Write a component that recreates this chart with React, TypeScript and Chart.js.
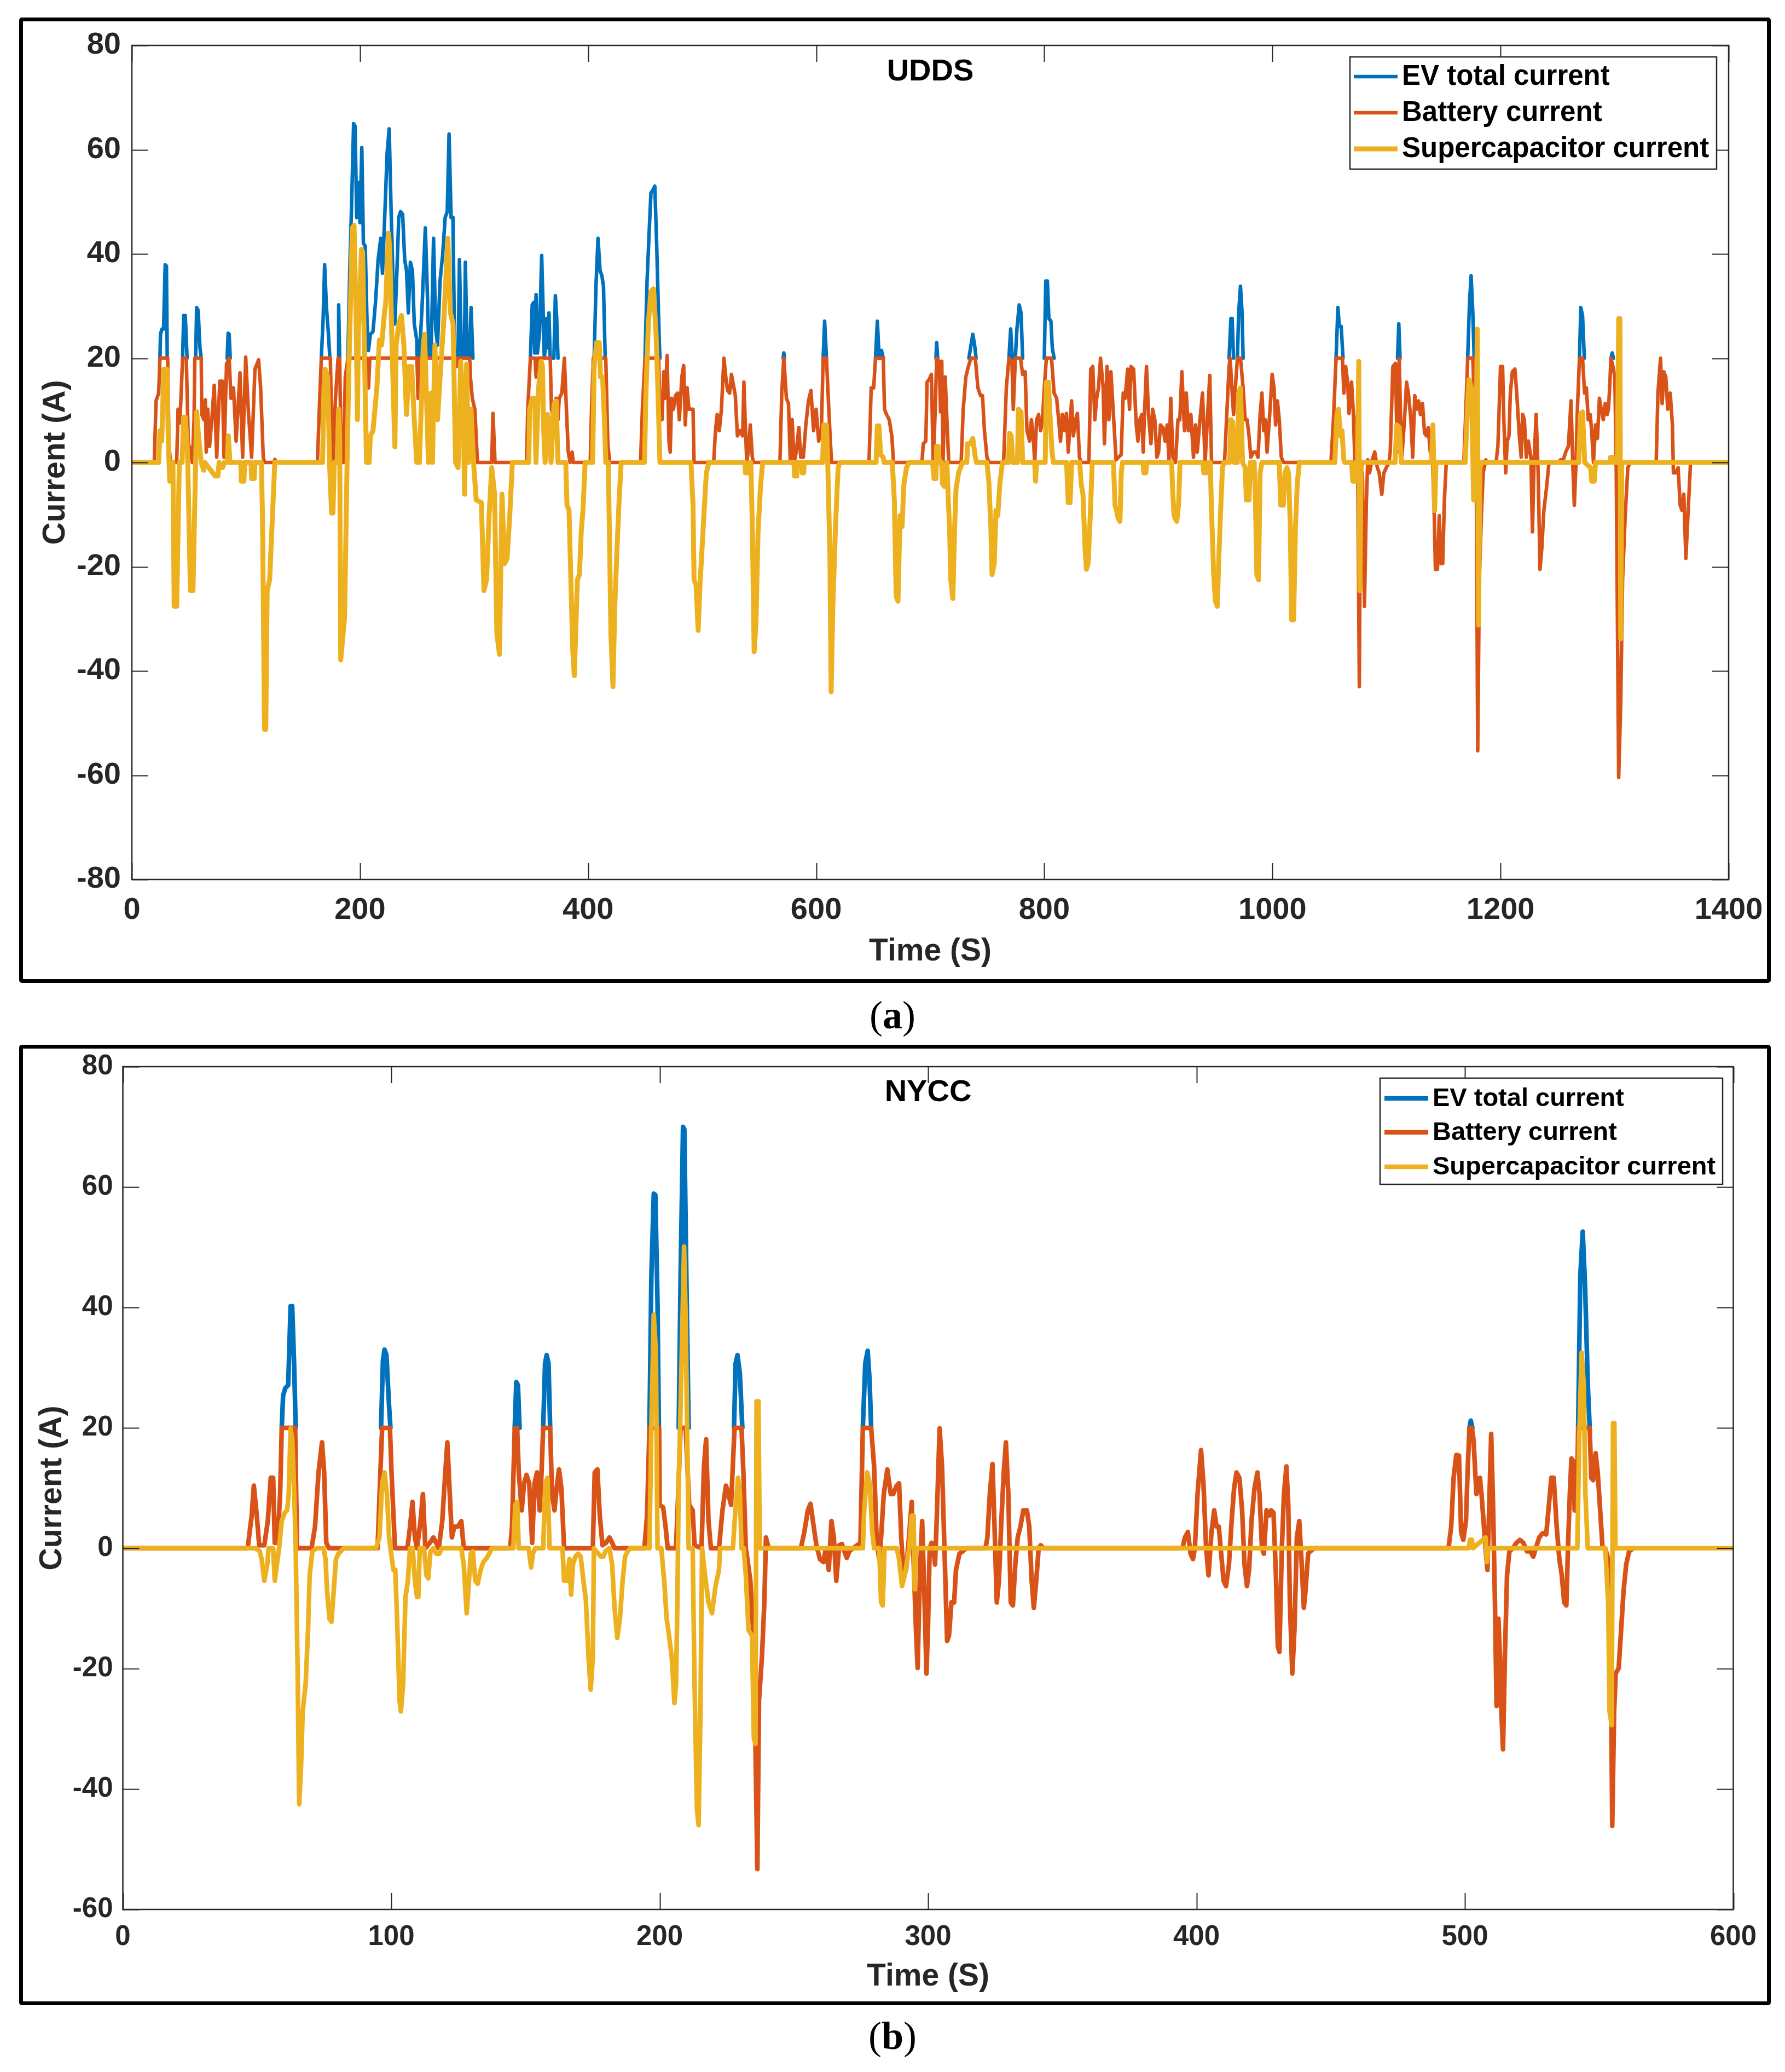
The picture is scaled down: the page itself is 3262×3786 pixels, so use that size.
import React, { useEffect, useRef } from 'react';
import { Chart, registerables } from 'chart.js';

Chart.register(...registerables);

// ---------------- DATA (time s, current A) ----------------
const X_TICKS_UDDS = [0, 1400, 200];
const Y_TICKS_UDDS = [-80, 80, 20];
const X_TICKS_NYCC = [0, 600, 100];
const Y_TICKS_NYCC = [-60, 80, 20];

const SERIES_LABELS = ['EV total current', 'Battery current', 'Supercapacitor current'];

const UDDS_SUPERCAP: [number, number][] = [
  [0,0],[23.5,0],[24.6,6.1],[26.2,4.1],[28,17.9],[30.7,17.9],[32.1,3.1],[32.6,0],[33.2,-3.6],[34.8,-3.6],[35.5,-1],[36,0],[37.1,-27.6],[39.3,-27.6],[41.6,0],[44,0],[45.4,8.7],[46.8,8.7],[48.4,3.6],[49,0],[49.5,-5],[51.3,-24.6],[53.6,-24.6],[55.9,0],[56.8,9.7],[58.5,5],[60.8,0],[63,-1.5],[64,0],[73,-2.6],[75.5,-2.6],[76.5,0],[79.5,-1],[81,0],[83.5,0],[84.6,5.1],[86,0],[95.5,0],[96,-3.6],[98.2,-3.6],[99,0],[104.5,0],[105,-3.1],[107.2,-3.1],[108,0],[113.5,0],[114.5,-10],[116.3,-51.2],[117.4,-51.2],[118.6,-24.6],[120.8,-22.5],[125.3,0],
  [167.2,0],[168.4,14.3],[169.5,17.9],[171.7,16.4],[173.3,0],[175.1,-9.7],[176.3,-9.7],[177.5,0],[180,0],[181.3,10.2],[182.2,5],[183.1,-37.9],[186.5,-29.7],[188.7,0],[190.3,18.4],[193.3,45],[194.8,45.5],[196.6,27.6],[197.8,8.2],[198.5,24.6],[200,31.7],[201.2,40.9],[202.3,40.4],[204.6,13.3],[205.7,0],[208,0],[209.1,5.1],[211.4,6.1],[214.8,14.3],[217,23.5],[219,22.5],[221.5,28.7],[222.6,30.7],[225,44],[226.1,40.9],[228.3,20.5],[230.6,3],[231.7,22.5],[234,26.6],[236.3,28.2],[238.5,22.5],[240.8,9.2],[243,18.4],[245.3,18.4],[247.6,8.2],[249.8,0],[251,4],[252.1,0],[255.5,22.5],[256.6,24.6],[258.9,8.2],[260,0],[262.3,13.3],[263.5,0],[265.7,22.5],[268,8.2],[270.2,16.4],[273.6,27.6],[277,43],[279.3,28.7],[281.6,26.6],[283.8,0],[286,-1],[288.3,19.4],[290.6,10.2],[291.7,-6.1],[293.5,18.9],[295.1,0],[297.4,10.2],[299.6,0],[301.9,-7.2],[306.4,-7.7],[308.7,-24.6],[311,-22.5],[313.2,-10.2],[315.5,-1],[318,-6.1],[320,-32.8],[322.3,-36.8],[324.5,-6.1],[326.8,-19.4],[329,-18.4],[331.3,-10.2],[333.6,0],
  [348,0],[348.7,10.2],[351,12.3],[353.2,12.3],[354.3,0],[356.6,14.3],[358.9,19.4],[360,18.4],[361.1,6.1],[362.3,0],[364.5,9.2],[366.1,8.2],[367.5,0],[370.2,11.3],[372,11.8],[373.6,0],[380.4,0],[381.5,-8.2],[383.3,-9.2],[384.9,-22.5],[386.5,-35.8],[387.9,-40.9],[389.4,-30.7],[390.6,-22.5],[392.4,-21.5],[394,-13.3],[395.5,-9.2],[397.4,0],[404,0],[405.3,18.4],[407.5,23],[409.8,23],[410.9,16.4],[412.7,16.4],[414.3,8.2],[415.5,0],[417.7,0],[418.9,-16.4],[420,-32.8],[421.8,-43],[423.4,-27.6],[425,-18.4],[427.2,-7.2],[429,0],[449.5,0],[450.6,12.3],[452.8,26.6],[455.1,32.8],[457.3,33.3],[459.6,24.6],[461.2,14.3],[463,0],[490.2,0],[492,-8.2],[492.9,-22.5],[494.7,-23.5],[496.5,-32.2],[498.1,-23.5],[499.7,-17.4],[501.5,-10.2],[503.7,-2],[505.9,0],[537.5,0],[538,-2],[541,-2],[541.8,0],[542.7,0],[544,-12.3],[545.6,-36.3],[547.2,-30.7],[549,-13.3],[551.3,-4.1],[553.1,0],[580.5,0],[581,-2.6],[583,-2.6],[583.5,0],[587.3,0],[587.8,-2],[589,-2],[589.5,0],[605.6,0],[606.7,7.2],[609,7.2],[610.1,0],[612,-17.4],[613.1,-44],[614.6,-27.6],[616.9,-12.3],[619.2,-1],[621,0],[652.5,0],[653.6,7],[655,7],[656.5,1.5],[658.8,1],[659.5,0],[666.7,0],[668.5,-7.2],[670.1,-25.6],[671.7,-26.6],[673.5,-10.2],[675.3,-12.3],[676.9,-4.1],[679.2,-1],[681.4,0],
  [702,0],[703.3,-3.1],[705,-3.1],[705.6,3.1],[707,3.1],[708,0],[710,0],[710.8,-4.1],[712.4,-4.6],[713.5,-1],[714.6,0],[715.8,-7.2],[716.9,-12.3],[718,-22.5],[719.8,-26.1],[721.4,-12.3],[722.6,-5.1],[724.8,-2],[728.2,0],[732,0],[732.7,3.6],[735,3.6],[737.3,4.6],[739.5,1],[740.5,0],[749.7,0],[751.5,-4.1],[753.1,-12.3],[754.2,-21.5],[756.1,-19.4],[757.6,-9.2],[759.2,-10.2],[761,-4.1],[763.3,0],[768.5,0],[769.6,5.6],[771,5.1],[772.4,0],[776.5,0],[777.3,10.2],[779.6,9.7],[781,0],[791.5,0],[792.3,-3.6],[793.2,0],[800.8,0],[801.8,15.4],[803.6,15.4],[805.2,8.2],[806.8,2],[808,0],[819.5,0],[821,-7.7],[822.6,-7.7],[824,0],[831,0],[832.3,-4.1],[833.9,-6.1],[835.7,-16.4],[836.9,-20.5],[838.4,-19.4],[840.3,-10.2],[842,0],[860.6,0],[862,-8.2],[863.4,-9.2],[864.7,-10.7],[866.3,-11.3],[867.5,-2],[868.5,0],[886.5,0],[887.3,-2],[889,-2],[889.8,0],[911.6,0],[912.7,-6.1],[913.8,-10.2],[916.1,-11.3],[917.7,-8.2],[919,0],[939,0],[939.9,-2],[942.1,-2],[943.2,0],[945.5,0],[946.6,-9.2],[948.5,-21.5],[950,-26.6],[951.6,-27.6],[953,-18.4],[954.6,-9.2],[956.2,-1],[957.5,0],[962.5,0],[963.6,8.2],[965.2,7.7],[966.6,0],[969.3,0],[970.4,13.3],[972,14.3],[973.8,0],[976.1,-1],[977.2,-7.2],[979.5,-7.2],[980.6,0],[984,0],[985.1,-7.2],[986.3,-21.5],[987.8,-22.5],[989.2,-2],[990.8,0],[1006,0],[1007.3,-8.2],[1009.6,-8.2],[1011,-2],[1012.7,-1],[1014.1,-2],[1015.7,-12.3],[1016.8,-30.2],[1018.6,-30.2],[1020.2,-12.3],[1021.8,-4.1],[1023.6,0],
  [1054.7,0],[1056.5,9.2],[1058,10.2],[1059.5,5.1],[1061,6.1],[1062.6,0.5],[1063.5,0],[1069.4,0],[1070.5,-3.6],[1072.3,-3.6],[1073.2,0],[1074.6,0],[1075.7,19.4],[1076.6,-24.6],[1077.7,-2],[1078.3,0],[1107.5,0],[1109,7.2],[1111.2,6.7],[1113.1,0],[1139.5,0],[1140.7,7.2],[1142.2,-9.2],[1143.4,0],[1169,0],[1170.6,8.2],[1172.3,15.9],[1174.6,14.3],[1176.4,-7.2],[1178.2,-7.2],[1179.6,25.6],[1180.7,-31.2],[1181.9,-1],[1182.8,0],[1268.5,0],[1270.1,9.2],[1271.9,9.7],[1273.8,0],[1278.9,-1],[1280,-3.6],[1282.2,-3.6],[1283.3,0],[1295.8,0],[1296.6,1],[1298.4,1],[1299,0],[1302.5,0],[1303.6,27.6],[1304.7,27.6],[1305.4,-33.8],[1306.3,0],[1400,0]
];

const UDDS_BATTERY: [number, number][] = [
  [0,0],[19.6,0],[21.2,11.8],[23.5,13.3],[24.6,20],[31.4,20],[32.5,3],[34.1,0],[39.3,0],[40.5,10.2],[42.1,7.6],[44.5,20],[47.7,20],[49.5,3.6],[51,2.6],[53,0],[54.5,8],[55.2,20],[60.8,20],[61.3,9.2],[63.1,8.2],[64.4,12],[65.2,2],[66.5,10.2],[68.1,3.1],[70,8],[72.2,14.8],[74.4,1],[77.1,15.6],[79.4,15.6],[80.8,1],[83,18.9],[85.3,20],[86.9,12.3],[89.1,14.3],[91.4,4.1],[94.8,17.2],[97.1,1],[99.8,20.2],[102.3,9.2],[105,1],[107.9,17.9],[111.1,19.7],[112.9,14.3],[115.2,1],[116.3,0],[124.6,0],[125.4,0.6],[126.2,0],
  [162.7,0],[164,8.2],[166.1,20],[174,20],[175.1,8],[176.3,0],[177.3,6],[178.5,12.3],[180.8,20],[182.2,20],[183.5,0],[185.5,0],[187.1,16.4],[189.4,20],[206,20],[207.5,14.3],[208.6,20],[250,20],[251,12.3],[252.3,20],[283.8,20],[285,18.4],[286,20],[296.2,20],[296.8,16.4],[298.5,12.3],[300.7,10.2],[303,0],[315.5,0],[316.6,9.4],[318.4,0],
  [346,0],[347.1,10.2],[349.4,20],[353.5,20],[354.4,16.4],[355.5,20],[366.8,20],[367.9,10.2],[370.2,8.2],[372,12.3],[373.6,8.2],[374.7,12.3],[377,13.3],[379.2,20],[381,10.2],[382.6,2],[384.2,0],[386,2],[387,0],[401.9,0],[403,10.2],[404.6,20],[415.5,20],[417.3,3.6],[418.9,0],[446,0],[447.6,10.2],[449.9,20],[461.9,20],[463,9.2],[464.8,8.2],[466.4,17.4],[467.5,12.3],[469.3,20.5],[470.9,4.1],[472,2],[473.2,12.3],[474.8,10.2],[476.6,12.8],[478.4,13.3],[480,8.2],[481.1,12.3],[482.2,16.4],[483.8,18.6],[485.2,7.2],[486.8,14.3],[488.4,10.2],[492,10.2],[492.9,0],
  [510.1,0],[511.7,6.1],[513.2,9.2],[515,6.1],[516.9,10.2],[519.1,20],[520.7,16.4],[522.3,13.8],[524.1,13.3],[525.7,16.9],[527.5,14.8],[529.1,12.8],[530.9,5.1],[533.2,6.1],[535.5,5.1],[536.6,15.4],[537.7,8.2],[539.1,0],[540.4,2],[542.2,7.2],[544,1],[545,0],[568.2,0],[569.8,13.3],[571.6,20],[573.9,12.3],[575.7,11.3],[577.3,0],[578.9,8.2],[580.7,0],[582.5,2],[584.8,6.7],[586.4,1],[588.7,1],[590.9,7.2],[593.2,11.8],[595.4,13.8],[597.7,6.1],[599.9,10.2],[602.2,4.1],[604.5,6.1],[606.1,20],[609,20],[610.6,12.3],[612.4,4.1],[613.5,0],[646.3,0],[648.2,14.3],[650.4,14.3],[652,20],[658.8,20],[659.9,10.2],[661.7,9.2],[664,8.2],[666.3,5.1],[667.8,0],
  [692.7,0],[693.9,3.6],[696.1,4.1],[697.2,15.4],[699,15.9],[701,16.9],[702.6,0],[704.4,10.2],[705.6,20],[707.9,19.4],[709,9.7],[710.1,19.4],[711.2,0],[713.1,16.4],[714.6,8.2],[716.2,0],[727.1,0],[728.9,10.2],[731.2,16.4],[733.4,18.4],[735.7,20],[739.5,20],[741.8,14.3],[744.1,12.8],[745.8,12.8],[747.5,6.1],[749.7,1],[751.5,0],[763.3,0],[764.4,0.5],[766.7,14.3],[769,20],[771.6,19.4],[772.8,10.2],[774.6,20],[779.1,20],[781,16.9],[783.2,17.4],[784.8,6.1],[787.1,4.1],[788.7,8.2],[790.5,4.1],[791.6,0],[793.2,8.2],[795,9.2],[796.8,6.1],[798.4,8.2],[800,14.3],[801.8,20],[806.3,20],[808.6,13.3],[810.8,12.3],[812.6,8.2],[814.2,4.1],[815.8,9.2],[817.6,6.1],[819.4,9.4],[821,2],[822.2,6.1],[823.9,11.8],[825.5,5.1],[827.4,8.2],[829,9.4],[830.8,1],[832.3,0],
  [839.1,0],[840.7,17.9],[842.5,18.4],[844.3,8.2],[845.9,12.3],[847.5,14.3],[849.3,20],[851.6,14.3],[852.7,3.6],[855,18.4],[856.6,8.2],[858.4,17.4],[860.6,9.2],[862.9,0.5],[865.1,1],[867.4,1.5],[869.2,13.3],[870.8,12.3],[873.1,17.9],[874.7,10.2],[876,18.4],[878.3,17.9],[880.6,7.2],[882.1,4.1],[883.7,8.2],[885.5,9.2],[886.7,2],[887.8,9.2],[889.6,18.4],[891.4,9.2],[893.5,3.6],[895,10.2],[896.9,8.2],[898.7,1],[900.2,2],[901.8,7.2],[904,6.7],[905.9,4.1],[907.7,7.2],[909.3,0.5],[910.9,12.3],[912.7,1],[915,0],[917.2,8.2],[918.8,8.2],[920.6,17.4],[922.9,6.1],[924.5,13.3],[926.3,6.1],[928.5,9.2],[930.8,1],[932.6,7.2],[934.1,2],[936.5,8.2],[938.7,13.3],[941,0],[943.2,9.2],[945.1,16.7],[946.6,0],
  [958,0],[960.2,10.2],[962,18.4],[962.9,20],[965.9,9.2],[967.5,14.3],[969.3,20],[972,20],[974.3,14.3],[976.1,8.2],[977.8,8.2],[979.5,5.1],[981.1,1],[983.4,2],[985.6,2],[987.4,1],[989.2,9.2],[990.8,13.3],[992.4,6.1],[993.8,8.2],[995.3,2],[997.6,9.2],[999.8,16.9],[1001.4,14.3],[1002.8,7.2],[1004.4,11.8],[1006,8.2],[1007.8,1],[1009.8,0],
  [1051.3,0],[1053.5,8.2],[1055.8,20],[1061.4,20],[1062.6,13.3],[1064.2,18.4],[1066,15.4],[1067.1,9.4],[1069.4,15.4],[1071,9.2],[1072.3,0],[1073.4,8.7],[1074.8,0],[1076.2,-43],[1077.3,-1],[1078.9,-2],[1080.7,-27.6],[1082.3,-8.2],[1083.6,0.5],[1085.2,-2],[1086.8,0],[1089.7,2],[1092,-1],[1093.6,-2],[1095.9,-6.1],[1097.7,-2],[1099.9,-1],[1102.2,0],[1103.3,2],[1105.6,18.4],[1107.9,19],[1109.4,2],[1111.2,20],[1112.4,8.2],[1113.5,1],[1115.8,8.2],[1117.6,15.4],[1119.2,13.3],[1121.4,8.2],[1123,1],[1124.8,12.8],[1126.6,10.2],[1128.2,11.8],[1129.8,9.2],[1131.6,11.3],[1133.4,5.6],[1135,5.1],[1136.6,6.7],[1138.4,2],[1140.2,1],[1141.8,-9.2],[1142.9,-20.5],[1144.7,-20.5],[1146.3,-10.2],[1147.9,-19.4],[1149.3,-19.4],[1150.8,-7.2],[1152.4,0],
  [1167.8,0],[1169.6,10.2],[1171.2,20],[1175.7,20],[1177.3,10.2],[1178.7,0],[1180,-55.3],[1181.4,-22.5],[1183.2,-10.2],[1184.8,-2],[1187.1,0.5],[1188.5,0],[1196.1,0],[1197.7,3.1],[1200,18.4],[1201.8,18.4],[1202.9,8.2],[1204.5,-2],[1205.9,4.1],[1207.4,5.1],[1208.6,13.3],[1210.4,17.4],[1212.6,17.9],[1214.2,13.3],[1216.5,5.1],[1218.1,1],[1219.4,9.2],[1220.9,8.2],[1222.6,1],[1224.4,4.1],[1226.6,1],[1228,-13.3],[1229.4,0],[1231.2,9.2],[1233,-2],[1234.6,-20.5],[1236.2,-16.4],[1238,-9.2],[1240.2,-5.1],[1242.5,0],
  [1250.4,0],[1252.6,0.5],[1255,0.5],[1257.2,2],[1259.5,3.1],[1261.8,11.8],[1263.3,0],[1264.7,-8.2],[1266.2,0],[1267.4,10.2],[1269.2,20],[1271.9,20],[1273.7,13.3],[1275.3,14.3],[1276.9,8.2],[1278.6,9.2],[1279.9,6.1],[1281.5,0],[1283.3,7.2],[1285,4.6],[1286.7,12.3],[1288.3,10.2],[1290.1,8.2],[1291.8,11.3],[1293.5,9.2],[1294.6,10.2],[1295.7,14.3],[1296.8,20],[1298.6,18.4],[1300.2,16.4],[1301.4,0],[1303.6,-60.4],[1305.4,-46],[1307,-22.5],[1309.3,-10.2],[1311.6,-1],[1313.8,0],
  [1336.5,0],[1338,13.3],[1340.3,20],[1341.7,11.3],[1343.2,17.4],[1344.9,16.4],[1346.6,10.2],[1348.8,13.3],[1350.7,7.2],[1351.6,-2],[1353.9,-2],[1355.7,-1],[1357.5,-8.2],[1359.1,-9.2],[1360.7,-6.1],[1362.5,-18.4],[1364.3,-10.2],[1366.6,0],[1368.1,0]
];

const UDDS_TOTAL: [number, number | null][] = [
  [24.6,20],[25.1,24.6],[26.4,25.6],[27.8,25.6],[29.2,37.9],[30.3,37.7],[31,20],[38,null],
  [44.5,20],[45.4,28.2],[46.8,28.2],[48.4,20],[52,null],
  [55.9,20],[56.8,29.7],[58.1,29.2],[59.7,22],[60.8,20],[70,null],
  [83.5,20],[84.4,24.8],[85.3,24.6],[86.2,20],[120,null],
  [166.1,20],[167.7,27.6],[169,37.9],[170.6,29.7],[172.2,25.1],[173.6,20],[177,null],
  [181,20],[181.3,30.2],[182.2,20],[185,null],
  [189.4,20],[191,36.8],[192.6,49.1],[194.4,65],[195.7,64.5],[197.1,47],[198.5,53.7],[200,46],[201.6,60.4],[203,42],[204.6,41.5],[206.2,26.6],[207.5,21.5],[209.1,24.6],[211.4,25.1],[213.6,30.7],[215.9,38.9],[218.2,43],[219.7,36.3],[221.5,46],[223.8,59.4],[225.6,64],[227.2,49.1],[229,34.8],[230.6,26.6],[232.4,36.8],[234,47],[235.6,48.1],[237.4,47.6],[239.2,38.9],[240.8,36.8],[242.4,28.7],[244.2,38.4],[246,36.8],[247.6,26.6],[249.8,23.5],[251,12.3],[252.1,20.3],[254.4,29.7],[257.3,45],[258.9,33.8],[260.5,20.2],[262.3,20],[264.5,43],[266.4,25.6],[268,22.5],[270.2,34.8],[272.5,39.9],[274.7,47],[276.5,48.1],[278.1,63],[279.9,47],[281.5,47],[283.1,20],[284.5,null],
  [286,20],[287.2,38.9],[289,20],[290.2,null],
  [291.5,20],[292.4,38.4],[294,20],[295,null],
  [296,20],[297.4,29.7],[299,20],[320,null],
  [349.4,20],[351,30.2],[352.3,30.7],[353.2,21],[354.4,32.2],[355.6,21],[357.5,25],[359.3,39.7],[360.5,30],[361.6,20],[362.5,22],[363,27.6],[364,22],[365.7,28.7],[366.8,20],[370,20],[371.3,32],[372.4,28],[373.6,20],[390,null],
  [405.3,20],[406.9,33.8],[408.7,43],[410.5,36.8],[412.1,35.8],[413.5,33.8],[415,20],[430,null],
  [449.9,20],[451.7,34.8],[453.5,44],[455.1,51.7],[456.7,52.2],[458.5,53],[460.1,42],[461.4,31.3],[462.5,22.5],[463,20],[520,null],
  [571,20],[571.6,21],[572.2,20],[590,null],
  [606.1,20],[607.4,27.1],[609,20],[630,null],
  [652,20],[653.6,27.1],[655.2,20],[656.5,20],[657.2,21.5],[658.8,20],[680,null],
  [705,20],[705.6,23],[706.5,20],[720,null],
  [733.9,20],[735.7,22.5],[737.3,24.6],[738.9,22.5],[740.2,20],[760,null],
  [769,20],[770.5,25.6],[771.9,20],[773,null],
  [774.6,20],[776,25.6],[778,30.2],[779.6,28.7],[781,20],[790,null],
  [800,20],[801.3,34.8],[802.7,34.8],[804,27.6],[805.8,27.1],[807,22],[808.6,20],[900,null],
  [962,20],[963.6,27.6],[964.7,27.6],[965.9,20],[967,null],
  [969.3,20],[970.4,28.7],[972,33.8],[973.4,28.7],[974.3,20],[1030,null],
  [1055.8,20],[1057.4,29.7],[1058.7,26.1],[1060.3,26.1],[1061.9,20],[1080,null],
  [1109.7,20],[1110.8,26.6],[1111.9,20],[1150,null],
  [1171.2,20],[1172.8,30.7],[1174.2,35.8],[1175.7,28.7],[1176.9,20],[1220,null],
  [1269.2,20],[1270.4,29.7],[1271.9,28.2],[1273.5,20],[1285,null],
  [1296.8,20],[1297.9,21],[1299,20]
];

const NYCC_SUPERCAP: [number, number][] = [
  [0,0],[49.5,0],[51,-0.5],[51.7,-1.8],[52.7,-5.4],[53.8,-2.7],[54.3,0],[56,0],[56.6,-5.4],[57.4,-2.7],[58.2,0],[59.2,4.5],[60.3,5.9],[61.2,6.3],[61.8,9],[62.5,19.9],[63.1,18.1],[63.8,10],[64.4,0],[65.1,-19.9],[65.7,-42.5],[66.4,-36.1],[67,-27.1],[68.1,-22.6],[69,-13.6],[69.6,-4.5],[70.6,-0.5],[72.2,0],[74.8,0],[75.5,-1.8],[76.1,-7.2],[77,-11.7],[77.7,-12.2],[78.4,-8.1],[79.4,-1.8],[80.3,-0.9],[82.3,0],
  [94.3,0],[95.6,1.8],[96.6,10.8],[97.5,12.6],[98.4,9],[99.2,1.8],[99.7,0],[100.8,-3.6],[101.5,-3.6],[102.1,-10.8],[103.1,-25.3],[103.6,-27.1],[104.4,-22.6],[105.3,-8.1],[106.2,-5.4],[107,0],[108,0],[108.8,-5.4],[109.6,-8.1],[110.1,-8.1],[110.6,0],[112.2,0],[113.1,-4.5],[113.8,-5],[114.6,-0.5],[115.7,0],[116.8,-0.9],[117.9,-0.9],[118.8,0],[126.1,0],[127,-2.7],[128.1,-10.8],[128.7,-7.2],[129.6,-0.9],[130.4,-0.5],[131.3,-5.4],[132.2,-5.9],[133.3,-3.6],[134.3,-2.3],[135.6,-1.6],[136.5,-0.9],[137.4,0],
  [145.5,0],[146.2,7.2],[146.9,7.7],[147.5,0],[151.2,0],[152.1,-3.2],[152.8,-0.9],[153.6,0],[156.6,0],[157.4,10.8],[158.2,11.7],[159,0],[163.8,0],[164.4,-5.4],[165.4,-5.4],[166.4,-1.8],[167,-7.7],[167.7,-2.7],[168.6,-1.4],[169.6,-0.9],[170.6,-1.4],[171.6,-5.4],[172.5,-8.6],[173.5,-18.1],[174.3,-23.5],[175.1,-18.1],[175.5,0],[178.1,-1.4],[179,-1.4],[179.8,-0.5],[181.3,0],[182.3,-2.7],[183.2,-9.9],[184.2,-14.9],[185.2,-11.7],[186.2,-5.4],[187.1,-1.4],[188.1,-0.5],[189.1,0],
  [196.2,0],[196.9,19.9],[197.8,38.8],[198.6,32.5],[199.2,0],[200.6,0],[201.7,-5.4],[202.6,-11.7],[203.5,-14.5],[204.5,-18.1],[205.5,-25.7],[206.1,-22.6],[206.6,-9],[207.1,10.8],[207.8,23.5],[209.1,50.1],[209.7,38],[210.4,14.5],[210.8,0],[212.3,0],[213,-22.6],[213.9,-43.4],[214.5,-46],[215.2,-27.1],[215.8,0],[216.9,-4.5],[218.2,-9],[219.5,-10.8],[220.8,-6.3],[222.1,-3.6],[222.5,0],[227.3,0],[228.2,6.3],[229.2,11.7],[229.9,9],[230.5,0],[231.3,0],[232.1,-4.5],[233.1,-13.6],[234.4,-14.5],[235.1,-31.6],[235.7,-32.5],[236.1,24.4],[236.8,24.4],[237.3,0],
  [275.7,0],[276.2,6.3],[277.3,12.6],[278.3,10.8],[279.2,2.7],[279.9,0],[281.8,0],[282.5,-9],[283.1,-9.5],[283.8,0],[288.3,0],[289.2,-1.8],[290.3,-6.3],[291.3,-4.5],[292.3,-1.8],[293,0],[293.9,5.4],[294.6,5.4],[295,-6.8],[295.5,0],
  [501.4,0],[501.9,1.4],[502.6,1.4],[503,0],[507.7,1.8],[508.2,-2.3],[508.7,0],[541.9,0],[542.6,18.1],[543.5,32.5],[544.3,27.1],[544.9,9],[545.8,0],[552.3,0],[553.4,-9],[553.9,-27.1],[554.7,-29.4],[555.2,20.8],[555.7,20.8],[556.1,0],[600,0]
];

const NYCC_BATTERY: [number, number][] = [
  [0,0],[46.5,0],[48,5.4],[48.8,10.4],[49.9,5.4],[50.8,0.5],[52.7,0.5],[54,4.5],[55.1,11.7],[56,11.7],[56.6,0.9],[57.6,0.9],[58.6,9],[59.2,20],[64.2,20],[64.9,0],[70.3,0],[71.6,3.6],[72.9,12.6],[74.2,17.6],[75,12.6],[75.8,0.9],[76.8,0],
  [94.9,0],[95.8,10.8],[96.6,20],[99.5,20],[100.1,12.6],[101.4,0],[106,0],[107,3.6],[107.9,7.7],[108.8,1.8],[109.6,0],[110.9,4.5],[111.8,9],[112.7,0],[114.4,0.9],[115.7,1.8],[116.7,0.9],[117.7,0],[119,4.5],[120,11.7],[120.9,17.6],[121.8,9],[122.6,1.8],[123.5,3.6],[124.8,3.6],[126.1,4.5],[127,0],
  [144.3,0],[145,3.6],[146,19.9],[146.9,20],[147.5,12.6],[148.6,6.3],[149.5,10.8],[150.4,12.2],[151.4,10.8],[152.5,0.9],[153.4,10.8],[154.3,12.6],[155.3,6.3],[156,12.6],[156.6,20],[159.2,20],[159.9,9],[160.8,6.3],[161.6,9.9],[162.5,13.1],[163.4,9.9],[164.4,0],[175.1,0],[175.8,12.6],[176.8,13.1],[177.7,5.4],[178.7,0.5],[180,0.9],[181.3,1.8],[182.3,0.9],[183.2,0],
  [194.3,0],[195.3,5.4],[196.2,20],[199.8,20],[200,7.2],[201.3,6.8],[202.2,3.6],[203,0],[206.1,0],[206.9,9],[207.8,20],[209.7,20],[211,7.2],[212.3,6.3],[213,0.5],[215.6,0],[216.5,13.6],[217.3,18.1],[218.2,4.5],[219.1,0],[222.1,0],[223.4,6.3],[224.7,10.4],[225.6,9],[226.6,7.2],[227.9,20],[230.5,20],[231.2,12.6],[232.1,0],[233.8,-5.4],[235.1,-16.3],[236.4,-53.3],[237,-25.3],[238.1,-18.1],[239,-9],[239.6,1.8],[240.6,0],
  [252.6,0],[253.9,2.7],[255.2,6.3],[256.2,7.4],[257.1,4.5],[258.4,0.5],[259.7,-1.8],[261,-2.3],[261.9,0],[263,-3.6],[264,4.5],[264.9,1.8],[265.8,-5.4],[266.9,0.5],[267.9,0.7],[268.8,-0.5],[269.7,-1.6],[270.7,-0.5],[272.1,0],[274.8,0.9],[275.7,20],[278.8,20],[279.9,13.6],[280.9,0.9],[281.8,-1.8],[282.5,1.8],[283.5,9],[284.8,13.1],[286.1,9],[287,9],[288.3,10.4],[289.2,10.8],[290,1.8],[290.9,-4.5],[291.8,-3.6],[292.9,1.8],[293.9,7.7],[294.8,-4.5],[295.5,-13.6],[296.1,-19.9],[297,-3.6],[297.8,4.5],[298.7,-9],[299.4,-20.8],[300,-12.6],[300.6,0],[301.3,0.9],[302,0],[302.6,-2.7],[303.2,4.5],[304.3,19.9],[305.2,13.6],[306.1,0],[307.1,-15.4],[307.8,-14.5],[308.7,-9],[309.7,-9],[310.4,-3.6],[311.7,-0.9],[312.9,-0.5],[314.3,0],
  [321.4,0],[322.1,1.8],[323,9],[324,14],[324.7,4.5],[325.6,-9],[326.4,-5.4],[327.3,4.5],[328.2,12.6],[329,17.6],[329.9,9],[330.8,-9],[331.6,-9.5],[332.5,-2.7],[333.4,1.8],[334.4,3.6],[335.5,6.3],[336.8,6.3],[337.7,3.6],[338.6,-5.4],[339.4,-9.9],[340.3,-5.4],[341.2,0],[342,0.5],[343,0],
  [394.8,0],[395.7,1.8],[396.8,2.7],[397.8,-0.9],[398.7,-1.8],[399.4,0],[400.4,9],[401.7,16.3],[402.6,10.8],[403.6,0],[404.5,-4.5],[405.6,2.7],[406.6,6.3],[407.5,3.6],[408.3,3.6],[409.2,-0.9],[410.1,-5.4],[411,-6.3],[412.1,-2.7],[413.1,4.5],[414,9.9],[414.9,12.6],[416,11.7],[417,6.3],[417.9,-2.7],[418.8,-6.3],[419.6,-3.6],[420.5,4.5],[421.6,9.9],[422.7,12.6],[423.5,9],[424.4,0],[425.1,-0.9],[426.1,6.3],[427,5.4],[427.8,6.3],[428.7,5.9],[429.6,-4.5],[430.3,-16.3],[430.9,-17.2],[431.8,0],[432.6,9],[433.5,13.6],[434.2,7.2],[434.8,-9],[435.7,-20.8],[436.5,-13.6],[437.4,1.8],[438.3,4.5],[439.1,-1.8],[440,-9.9],[440.6,-7.2],[441.6,-0.9],[442.4,-0.5],[443.9,0],
  [493.9,0],[494.9,3.6],[495.8,11.7],[496.8,15.5],[497.8,15.4],[498.6,2.7],[499.4,1.4],[500.4,4.5],[501,12.6],[501.7,20],[502.6,20],[503.2,18.1],[504.3,9],[504.9,9.9],[505.6,11.7],[506.2,9],[507.1,3.6],[507.7,0],[508.4,-3.6],[509.2,9],[509.8,19],[510.5,7.2],[511.2,-9],[511.8,-26.2],[512.5,-11.7],[513.1,-18.1],[513.6,-27.1],[514.2,-33.4],[514.9,-18.1],[515.7,-4.5],[516.6,-0.5],[517.9,0],[519.2,0.9],[520.5,1.4],[521.8,0.9],[523.1,-0.5],[524.4,-0.5],[525.5,-1.4],[526.4,0],[527.7,1.8],[529,2.5],[530.3,2.3],[531.3,7.2],[532.2,11.7],[533.1,11.7],[534.2,3.6],[535.2,-1.8],[536.1,-4.5],[537,-9],[537.8,-9.5],[538.4,0],[539.1,9],[539.7,14.9],[540.4,14.5],[540.9,6.3],[541.7,6.3],[542.2,20],[546.5,20],[547.1,11.7],[547.8,11.3],[548.7,15.8],[549.5,12.6],[550.4,6.3],[551.3,0],[552.3,0],[553.4,-1.8],[554.3,-13.6],[554.9,-46.1],[555.6,-27.1],[556.2,-20.8],[557.3,-19.9],[558.2,-13.6],[559.1,-7.2],[560.1,-2.7],[561.2,-0.5],[562.7,0]
];

const NYCC_TOTAL: [number, number | null][] = [
  [59.2,20],[59.7,25.3],[60.5,26.6],[61.6,27.1],[62.5,40.2],[63.1,40.2],[63.8,30.7],[64.4,20],[80,null],
  [96.2,20],[96.9,31.2],[97.5,33],[98.2,32.1],[99.2,23.5],[99.7,20],[120,null],
  [146,20],[146.6,27.6],[147.2,27.1],[147.8,20],[152,null],
  [156.6,20],[157.3,30.7],[157.9,32.1],[158.6,30.7],[159.2,20],[180,null],
  [196.2,20],[196.9,45],[197.8,58.9],[198.4,58.7],[199.2,40.7],[199.7,20],[203,null],
  [207.1,20],[207.8,45.2],[208.7,70],[209.2,69.6],[210,43.4],[210.8,20],[220,null],
  [227.7,20],[228.3,30.7],[229,32.1],[229.9,28.9],[230.8,20],[250,null],
  [275.7,20],[276.6,30.7],[277.5,32.8],[278.2,28],[278.8,20],[400,null],
  [501.7,20],[502.2,21.2],[502.8,20],[520,null],
  [542.2,20],[543,45.2],[543.9,52.6],[544.8,43.4],[545.8,27.1],[546.5,20]
];

// ---------------- STYLE ----------------
const BLUE = '#0072BD';
const ORANGE = '#D95319';
const YELLOW = '#EDB120';
const AXIS = '#262626';
const SANS = '"Liberation Sans", Arial, Helvetica, sans-serif';

type PanelCfg = {
  top: number; height: number;
  supercap: [number, number][]; battery: [number, number][]; total: [number, number | null][];
  xT: number[]; yT: number[];
  title: string; titleX: number; titleY: number; titleSize: number;
  padT: number; padR: number; yW: number; xH: number;
  tickSize: number; axisTitleSize: number;
  xTickPad: number; yTickPad: number; xTitlePad: number; yTitlePad: number;
  lwTotal: number; lwBatt: number; lwSc: number;
  legBox: [number, number, number, number]; legLine: [number, number]; legTextX: number; legRows: number[]; legSize: number;
};

const toXY = (p: [number, number | null][]) => p.map(([x, y]) => ({ x, y }));

function matlabPlugin(c: PanelCfg) {
  return {
    id: 'matlabAxes',
    afterDraw(chart: any) {
      const { ctx, chartArea: a, scales } = chart;
      const xs = scales.x, ys = scales.y;
      const L = 30;
      ctx.save();
      ctx.strokeStyle = AXIS;
      ctx.lineWidth = 2;
      ctx.beginPath();
      xs.ticks.forEach((t: any) => {
        const px = Math.round(xs.getPixelForValue(t.value)) + 0.5;
        ctx.moveTo(px, a.bottom); ctx.lineTo(px, a.bottom - L);
        ctx.moveTo(px, a.top); ctx.lineTo(px, a.top + L);
      });
      ys.ticks.forEach((t: any) => {
        const py = Math.round(ys.getPixelForValue(t.value)) + 0.5;
        ctx.moveTo(a.left, py); ctx.lineTo(a.left + L, py);
        ctx.moveTo(a.right, py); ctx.lineTo(a.right - L, py);
      });
      ctx.stroke();
      ctx.lineWidth = 2.5;
      ctx.strokeRect(a.left, a.top, a.right - a.left, a.bottom - a.top);

      // title inside axes
      ctx.fillStyle = '#000';
      ctx.font = `bold ${c.titleSize}px ${SANS}`;
      ctx.textAlign = 'center';
      ctx.textBaseline = 'middle';
      ctx.fillText(c.title, c.titleX, c.titleY);

      // legend
      const [bx1, by1, bx2, by2] = c.legBox;
      ctx.fillStyle = '#fff';
      ctx.fillRect(bx1, by1, bx2 - bx1, by2 - by1);
      ctx.lineWidth = 2.5;
      ctx.strokeStyle = AXIS;
      ctx.strokeRect(bx1, by1, bx2 - bx1, by2 - by1);
      const cols = [BLUE, ORANGE, YELLOW];
      const lws = [c.lwTotal, c.lwBatt, c.lwSc];
      ctx.font = `bold ${c.legSize}px ${SANS}`;
      ctx.textAlign = 'left';
      ctx.textBaseline = 'middle';
      SERIES_LABELS.forEach((lab, i) => {
        const y = c.legRows[i];
        ctx.strokeStyle = cols[i];
        ctx.lineWidth = lws[i];
        ctx.lineCap = 'butt';
        ctx.beginPath(); ctx.moveTo(c.legLine[0], y); ctx.lineTo(c.legLine[1], y); ctx.stroke();
        ctx.fillStyle = '#000';
        ctx.fillText(lab, c.legTextX, y + 1);
      });
      ctx.restore();
    }
  };
}

function buildConfig(c: PanelCfg): any {
  const tickFont = { family: SANS, weight: 'bold', size: c.tickSize };
  const titleFont = { family: SANS, weight: 'bold', size: c.axisTitleSize };
  const common = { pointRadius: 0, pointHoverRadius: 0, fill: false, tension: 0, borderJoinStyle: 'round', borderCapStyle: 'round', spanGaps: false };
  return {
    type: 'line',
    data: {
      datasets: [
        { ...common, label: SERIES_LABELS[2], data: toXY(c.supercap), borderColor: YELLOW, borderWidth: c.lwSc },
        { ...common, label: SERIES_LABELS[1], data: toXY(c.battery), borderColor: ORANGE, borderWidth: c.lwBatt },
        { ...common, label: SERIES_LABELS[0], data: toXY(c.total), borderColor: BLUE, borderWidth: c.lwTotal },
      ]
    },
    options: {
      animation: false,
      responsive: false,
      devicePixelRatio: 1,
      events: [],
      layout: { padding: { left: 0, right: c.padR, top: c.padT, bottom: 0 } },
      plugins: { legend: { display: false }, tooltip: { enabled: false }, title: { display: false } },
      scales: {
        x: {
          type: 'linear', position: 'bottom', min: c.xT[0], max: c.xT[1],
          grid: { display: false, drawTicks: false }, border: { display: false },
          ticks: { stepSize: c.xT[2], autoSkip: false, maxRotation: 0, font: tickFont, color: AXIS, padding: c.xTickPad, callback: (v: any) => String(v) },
          title: { display: true, text: 'Time (S)', font: titleFont, color: AXIS, padding: { top: 0, bottom: c.xTitlePad } },
          afterFit: (s: any) => { s.height = c.xH; }
        },
        y: {
          type: 'linear', position: 'left', min: c.yT[0], max: c.yT[1],
          grid: { display: false, drawTicks: false }, border: { display: false },
          ticks: { stepSize: c.yT[2], autoSkip: false, font: tickFont, color: AXIS, padding: c.yTickPad, callback: (v: any) => String(v) },
          title: { display: true, text: 'Current (A)', font: titleFont, color: AXIS, padding: { top: c.yTitlePad, bottom: 0 } },
          afterFit: (s: any) => { s.width = c.yW; }
        }
      }
    },
    plugins: [matlabPlugin(c)]
  };
}

const TOP_PANEL: PanelCfg = {
  top: 0, height: 1790,
  supercap: UDDS_SUPERCAP, battery: UDDS_BATTERY, total: UDDS_TOTAL,
  xT: X_TICKS_UDDS, yT: Y_TICKS_UDDS,
  title: 'UDDS', titleX: 1700, titleY: 132, titleSize: 56,
  padT: 83, padR: 103, yW: 241, xH: 183,
  tickSize: 56, axisTitleSize: 57,
  xTickPad: 23, yTickPad: 20, xTitlePad: 17, yTitlePad: 68,
  lwTotal: 6.5, lwBatt: 6.5, lwSc: 9,
  legBox: [2467, 104, 3137, 309], legLine: [2474, 2554], legTextX: 2562, legRows: [140, 206, 272], legSize: 51,
};

const BOTTOM_PANEL: PanelCfg = {
  top: 1900, height: 1760,
  supercap: NYCC_SUPERCAP, battery: NYCC_BATTERY, total: NYCC_TOTAL,
  xT: X_TICKS_NYCC, yT: Y_TICKS_NYCC,
  title: 'NYCC', titleX: 1696, titleY: 97, titleSize: 56,
  padT: 49, padR: 94.5, yW: 224.5, xH: 171,
  tickSize: 51, axisTitleSize: 57,
  xTickPad: 20, yTickPad: 18, xTitlePad: 14, yTitlePad: 62,
  lwTotal: 8.5, lwBatt: 8.5, lwSc: 8.5,
  legBox: [2522, 70, 3148, 264], legLine: [2530, 2610], legTextX: 2618, legRows: [107, 169, 232], legSize: 47,
};

function Panel({ cfg }: { cfg: PanelCfg }) {
  const ref = useRef<HTMLCanvasElement | null>(null);
  useEffect(() => {
    if (!ref.current) return;
    const chart = new Chart(ref.current, buildConfig(cfg));
    return () => chart.destroy();
  }, [cfg]);
  return (
    <canvas
      ref={ref}
      width={3262}
      height={cfg.height}
      style={{ position: 'absolute', left: 0, top: cfg.top, width: 3262, height: cfg.height }}
    />
  );
}

const frameStyle = (top: number, height: number): React.CSSProperties => ({
  position: 'absolute', left: 35, top, width: 3201, height,
  border: '7px solid #000', borderRadius: 5, boxSizing: 'border-box', pointerEvents: 'none'
});

const captionStyle = (top: number): React.CSSProperties => ({
  position: 'absolute', left: 0, top, width: 3262, textAlign: 'center',
  fontFamily: '"Liberation Serif", "DejaVu Serif", serif', fontSize: 72, lineHeight: '72px', color: '#000'
});

export default function App() {
  return (
    <div style={{ position: 'absolute', left: 0, top: 0, width: 3262, height: 3786, background: '#fff', overflow: 'hidden' }}>
      <Panel cfg={TOP_PANEL} />
      <Panel cfg={BOTTOM_PANEL} />
      <div style={frameStyle(32, 1764)} />
      <div style={frameStyle(1909, 1755)} />
      <div style={captionStyle(1819)}>(<b>a</b>)</div>
      <div style={captionStyle(3684)}>(<b>b</b>)</div>
    </div>
  );
}
